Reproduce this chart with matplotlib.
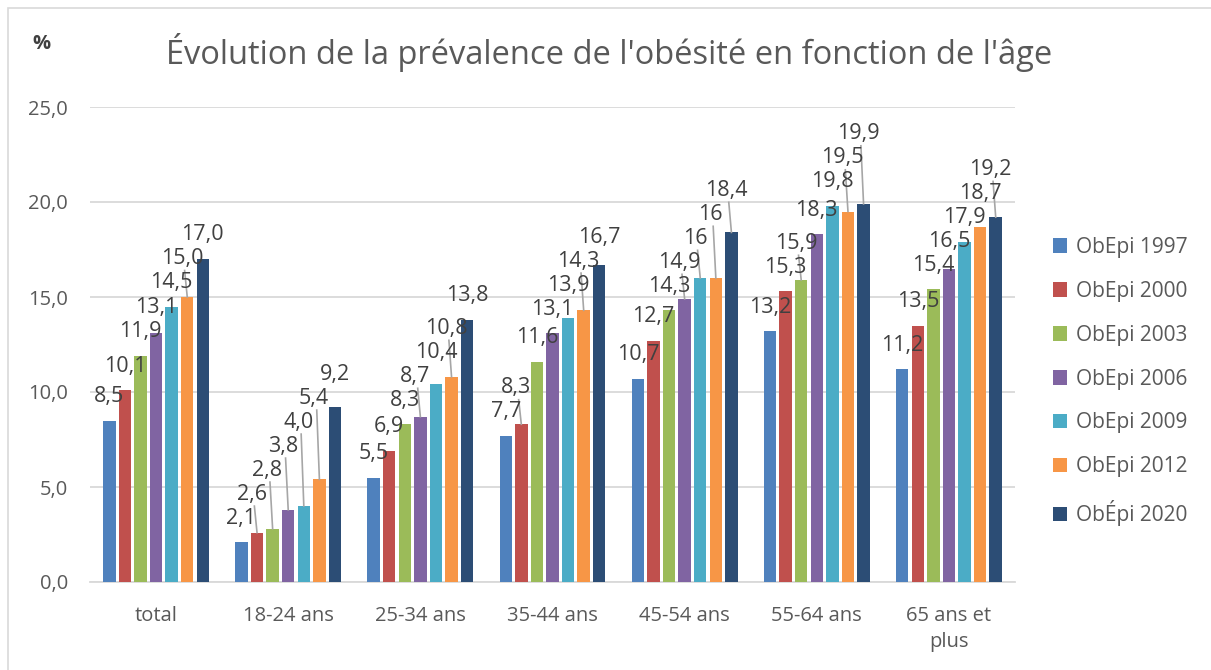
import matplotlib
matplotlib.use("Agg")
import matplotlib.pyplot as plt
import numpy as np
from matplotlib.patches import Rectangle

categories = ["total", "18-24 ans", "25-34 ans", "35-44 ans", "45-54 ans", "55-64 ans", "65 ans et\nplus"]
series_names = ["ObEpi 1997", "ObEpi 2000", "ObEpi 2003", "ObEpi 2006", "ObEpi 2009", "ObEpi 2012", "ObÉpi 2020"]
obepi_1997 = [8.5, 2.1, 5.5, 7.7, 10.7, 13.2, 11.2]
obepi_2000 = [10.1, 2.6, 6.9, 8.3, 12.7, 15.3, 13.5]
obepi_2003 = [11.9, 2.8, 8.3, 11.6, 14.3, 15.9, 15.4]
obepi_2006 = [13.1, 3.8, 8.7, 13.1, 14.9, 18.3, 16.5]
obepi_2009 = [14.5, 4.0, 10.4, 13.9, 16.0, 19.8, 17.9]
obepi_2012 = [15.0, 5.4, 10.8, 14.3, 16.0, 19.5, 18.7]
obepi_2020 = [17.0, 9.2, 13.8, 16.7, 18.4, 19.9, 19.2]
yticks = [0, 5, 10, 15, 20, 25]

series = [obepi_1997, obepi_2000, obepi_2003, obepi_2006, obepi_2009, obepi_2012, obepi_2020]
colors = ["#4F81BD", "#C0504D", "#9BBB59", "#8064A2", "#4BACC6", "#F79646", "#2C4D75"]

def fmt(v):
    if abs(v - 16.0) < 1e-9:
        return "16"
    return f"{v:.1f}".replace(".", ",")

W, H = 1211, 670
fig = plt.figure(figsize=(W / 100, H / 100), dpi=100)
font = "Open Sans"
txt_color = "#595959"

# chart border
fig.add_artist(Rectangle((8 / W, -0.05), 1.2, (H - 8) / H + 0.05, transform=fig.transFigure,
                         fill=False, edgecolor="#d9d9d9", linewidth=1.2))

ax_l, ax_r, ax_b, ax_t = 90, 1015, 582, 107
ax = fig.add_axes([ax_l / W, (H - ax_b) / H, (ax_r - ax_l) / W, (ax_b - ax_t) / H])
ax.set_xlim(-0.5, len(categories) - 0.5)
ax.set_ylim(0, 25)

n = len(series)
pitch = 0.118
bw = 0.094
x = np.arange(len(categories))
for i, (vals, c, name) in enumerate(zip(series, colors, series_names)):
    ax.bar(x + (i - (n - 1) / 2) * pitch, vals, width=bw, color=c, label=name, zorder=3)

ax.set_yticks(yticks)
ax.set_yticklabels([fmt(v) for v in yticks], fontsize=14.5, color=txt_color, family=font)
ax.set_xticks(x)
ax.set_xticklabels(categories, fontsize=14.5, color=txt_color, family=font, linespacing=1.45, va="top")
ax.tick_params(axis="both", length=0)
ax.tick_params(axis="y", pad=16)
ax.tick_params(axis="x", pad=17)
ax.grid(axis="y", color="#d9d9d9", linewidth=1.3, zorder=0)
for s in ["top", "right", "left"]:
    ax.spines[s].set_visible(False)
ax.spines["bottom"].set_color("#d9d9d9")
ax.spines["bottom"].set_linewidth(1.3)

# data labels, stacked to avoid overlap, with leader lines when displaced
px_per_unit = (ax_b - ax_t) / 25.0
default_off = 24  # px above bar top (label center)
step = 24
for j in range(len(categories)):
    prev = None
    for i in range(n):
        v = series[i][j]
        top_px = ax_b - v * px_per_unit
        y_px = top_px - default_off
        if prev is not None:
            y_px = min(y_px, prev - step)
        prev = y_px
        xc = j + (i - (n - 1) / 2) * pitch
        disp = (top_px - default_off) - y_px
        dx_units = 0.0
        if disp > 10:
            dx_units = -0.04
            ly = (ax_b - (y_px + 12)) / px_per_unit
            ax.plot([xc + dx_units + 0.02, xc], [ly, v], color="#a6a6a6", linewidth=1.2, zorder=4,
                    clip_on=False)
        ax.text(xc + dx_units, (ax_b - y_px) / px_per_unit, fmt(v), ha="center", va="center",
                fontsize=15.5, color="#404040", family=font, zorder=5)

fig.text(0.503, (H - 52) / H, "Évolution de la prévalence de l'obésité en fonction de l'âge",
         ha="center", va="center", fontsize=23.5, color=txt_color, family=font)
fig.text(41 / W, (H - 44) / H, "%", ha="center", va="center", fontsize=14.5, color="#404040",
         family=font, fontweight="bold")

leg = fig.legend(loc="upper left", bbox_to_anchor=(1034 / W, (H - 218) / H), frameon=False,
                 prop={"family": font, "size": 15}, labelcolor=txt_color, handlelength=0.7,
                 handleheight=0.7, handletextpad=0.4, labelspacing=1.1)

fig.savefig("out.png", dpi=100, facecolor="white")
